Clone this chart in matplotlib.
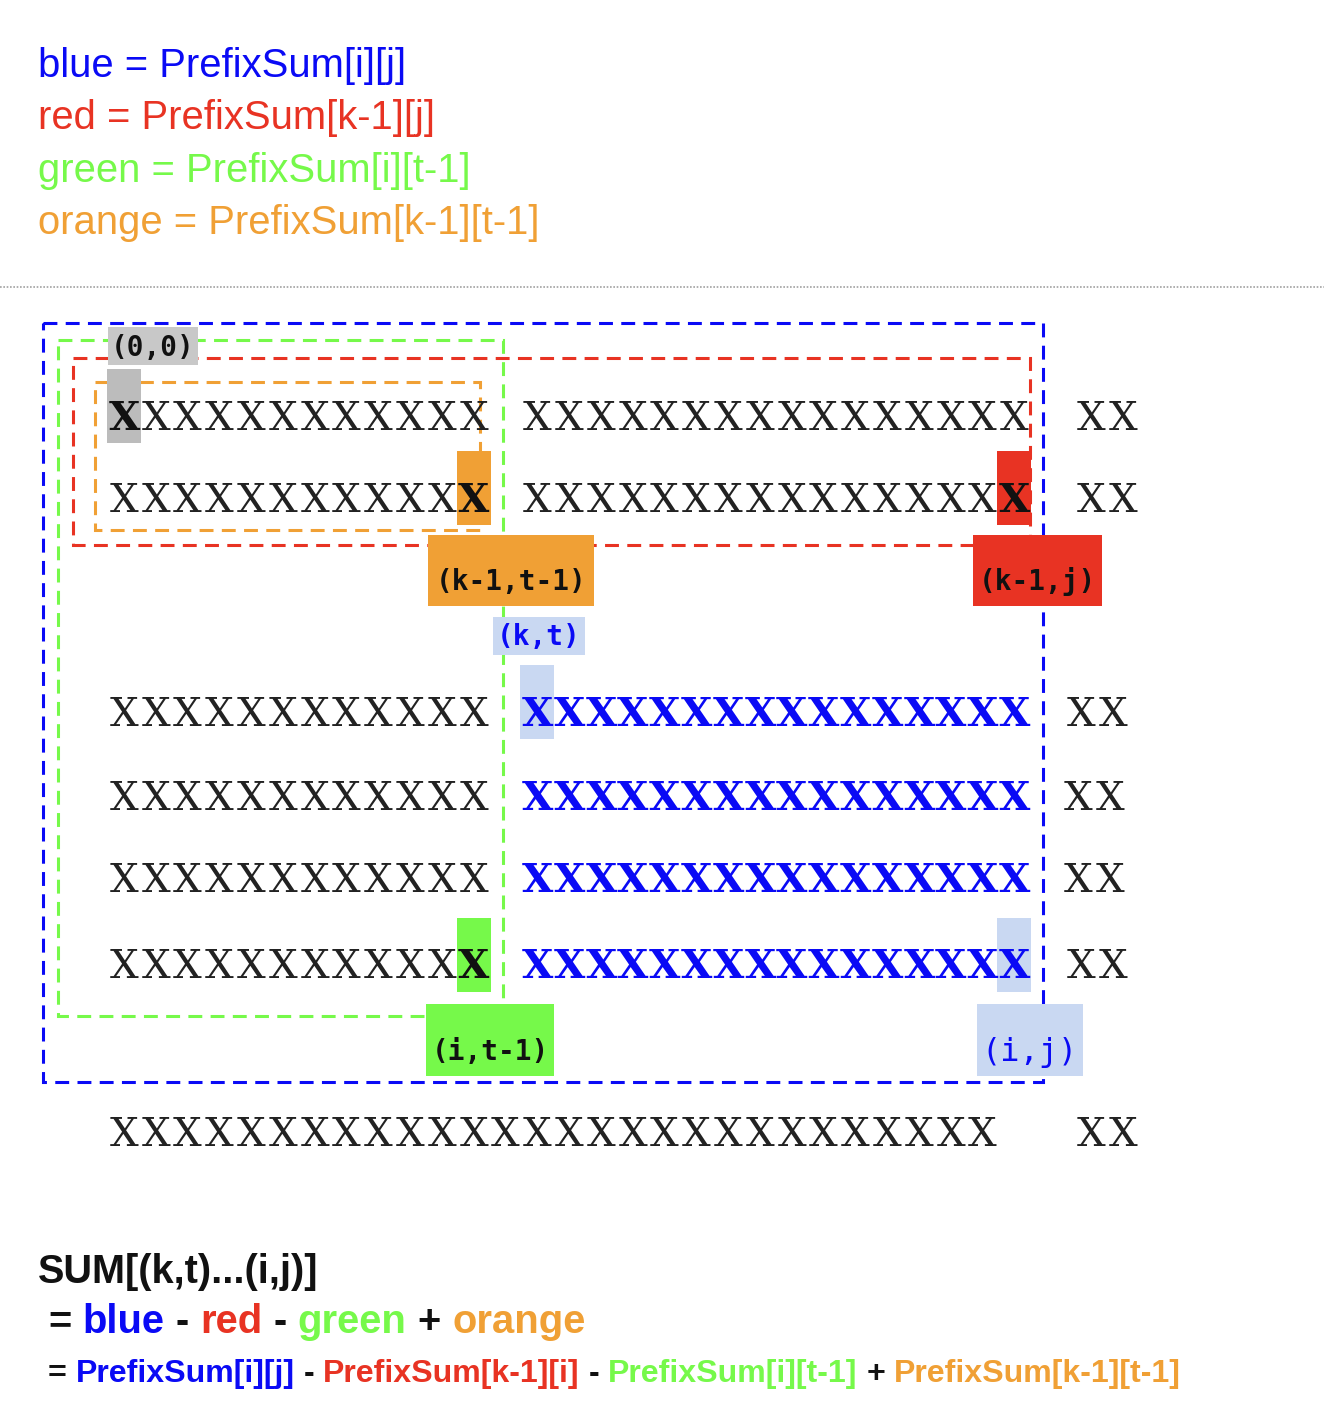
import matplotlib
matplotlib.use("Agg")
import matplotlib.pyplot as plt
from matplotlib.patches import Rectangle

# colours
BLUE = '#0a0af5'
RED = '#e83323'
GREEN = '#76f94a'
ORANGE = '#f0a035'
LIGHT_BLUE = '#c9d8f2'
GRAY = '#c8c8c8'
DARK_GRAY = '#bcbcbc'
BLACK = '#111111'

# header: which colour stands for which prefix sum
legend_names = ['blue', 'red', 'green', 'orange']
legend_terms = ['PrefixSum[i][j]', 'PrefixSum[k-1][j]', 'PrefixSum[i][t-1]', 'PrefixSum[k-1][t-1]']
legend_colors = [BLUE, RED, GREEN, ORANGE]

# the matrix of X's
grid_rows = [
    "XXXXXXXXXXXX XXXXXXXXXXXXXXXX XX",
    "XXXXXXXXXXXX XXXXXXXXXXXXXXXX XX",
    "XXXXXXXXXXXX XXXXXXXXXXXXXXXX XX",
    "XXXXXXXXXXXX XXXXXXXXXXXXXXXX XX",
    "XXXXXXXXXXXX XXXXXXXXXXXXXXXX XX",
    "XXXXXXXXXXXX XXXXXXXXXXXXXXXX XX",
    "XXXXXXXXXXXXXXXXXXXXXXXXXXXX  XX",
]
# sub matrix (k,t)...(i,j) in row/col indices
blue_rows = [2, 3, 4, 5]
blue_cols = list(range(13, 29))

# highlighted cells: (row, col, fill, text colour)
marked_cells = [
    (0, 0, DARK_GRAY, BLACK),
    (1, 11, ORANGE, BLACK),
    (1, 28, RED, BLACK),
    (2, 13, LIGHT_BLUE, BLUE),
    (5, 11, GREEN, BLACK),
    (5, 28, LIGHT_BLUE, BLUE),
]

# corner labels
corner_texts = ['(0,0)', '(k-1,t-1)', '(k-1,j)', '(k,t)', '(i,t-1)', '(i,j)']
corner_fills = [GRAY, ORANGE, RED, LIGHT_BLUE, GREEN, LIGHT_BLUE]
corner_colors = [BLACK, BLACK, BLACK, BLUE, BLACK, BLUE]
corner_weights = ['bold', 'bold', 'bold', 'bold', 'bold', 'normal']
corner_sizes = [20, 20, 20, 20, 20, 23]

# formula at the bottom
sum_title = 'SUM[(k,t)...(i,j)]'
formula_terms = ['PrefixSum[i][j]', 'PrefixSum[k-1][i]', 'PrefixSum[i][t-1]', 'PrefixSum[k-1][t-1]']
formula_ops = ['-', '-', '+']

# ---------------------------------------------------------------
W, H = 1324, 1410
plt.rcParams['lines.scale_dashes'] = False

fig = plt.figure(figsize=(W / 100, H / 100), dpi=100)
ax = fig.add_axes([0, 0, 1, 1])
ax.set_xlim(0, W)
ax.set_ylim(H, 0)
ax.axis('off')
renderer = fig.canvas.get_renderer()

SANS = 'Liberation Sans'
SERIF = 'DejaVu Serif'
LABEL_MONO = 'DejaVu Sans Mono'


def text_width(s, size, **kw):
    t = ax.text(0, 0, s, fontsize=size, **kw)
    w = t.get_window_extent(renderer).width
    t.remove()
    return w


def fit_size(s, target, **kw):
    return 30 * target / text_width(s, 30, **kw)


def draw_parts(x, y, parts, target, **kw):
    full = ' '.join(p for p, c in parts)
    size = fit_size(full, target, **kw)
    gap = text_width('a a', size, **kw) - text_width('aa', size, **kw)
    for s, c in parts:
        t = ax.text(x, y, s, color=c, fontsize=size, ha='left', va='baseline', **kw)
        x += t.get_window_extent(renderer).width + gap


# header lines
head_lines = [n + ' = ' + t for n, t in zip(legend_names, legend_terms)]
head_size = fit_size(head_lines[3], 501, family=SANS)
head_base = [77, 129, 182, 234]
for line, col, yb in zip(head_lines, legend_colors, head_base):
    ax.text(38, yb, line, color=col, fontsize=head_size, family=SANS,
            ha='left', va='baseline')

# dotted separator
ax.plot([0, W], [287, 287], color='#a8a8a8', lw=1.3, ls=(0, (1.2, 1.2)))

# dashed rectangles (x0, y0, x1, y1)
dash = (0, (10, 6))
rects = [
    ((43, 323, 1043, 1082), BLUE),
    ((58, 340, 503, 1016), GREEN),
    ((73, 358, 1030, 545), RED),
    ((95, 382, 480, 530), ORANGE),
]
for (x0, y0, x1, y1), col in rects:
    ax.add_patch(Rectangle((x0, y0), x1 - x0, y1 - y0, fill=False,
                           edgecolor=col, lw=2.2, ls=dash, zorder=2))

# grid layout
row_y = [415, 497, 711, 796, 878, 964, 1131]
col_x0 = 124
col_step = 31.8
tail_shift = [13, 13, 3, 0, 0, 3, 13]
GRID_SIZE = 29


def cell_x(r, c):
    x = col_x0 + c * col_step
    if c >= 29:
        x += tail_shift[r]
    return x


marks = {(r, c): (f, tc) for r, c, f, tc in marked_cells}
for r, row in enumerate(grid_rows):
    for c, ch in enumerate(row):
        if ch == ' ':
            continue
        x = cell_x(r, c)
        y = row_y[r]
        color, weight = '#222222', 'normal'
        if r in blue_rows and c in blue_cols:
            color, weight = BLUE, 'bold'
        if (r, c) in marks:
            fill, color = marks[(r, c)]
            weight = 'bold'
            ax.add_patch(Rectangle((x - 17, y - 46), 34, 74, facecolor=fill,
                                   edgecolor='none', zorder=3))
        ax.text(x, y + 14.5, ch, color=color, fontsize=GRID_SIZE, family=SERIF,
                fontweight=weight, ha='center', va='baseline', zorder=4)

# corner label boxes (x0, y0, x1, y1) and text centre y
label_boxes = [
    (108, 327, 198, 365, 348),
    (428, 535, 594, 606, 582),
    (973, 535, 1102, 606, 582),
    (493, 617, 585, 655, 637),
    (426, 1004, 554, 1076, 1052),
    (977, 1004, 1083, 1076, 1052),
]
for (x0, y0, x1, y1, yt), s, f, tc, wt, fs in zip(label_boxes, corner_texts, corner_fills,
                                                  corner_colors, corner_weights, corner_sizes):
    ax.add_patch(Rectangle((x0, y0), x1 - x0, y1 - y0, facecolor=f,
                           edgecolor='none', zorder=5))
    ax.text((x0 + x1) / 2, yt, s, color=tc, fontsize=fs, family=LABEL_MONO,
            fontweight=wt, ha='center', va='center', zorder=6)

# formula
title_size = fit_size(sum_title, 280, family=SANS, fontweight='bold')
ax.text(38, 1283, sum_title, color=BLACK, fontsize=title_size, family=SANS,
        fontweight='bold', ha='left', va='baseline')

ops = ['='] + formula_ops
parts2, parts3 = [], []
for op, name, term, col in zip(ops, legend_names, formula_terms, legend_colors):
    parts2 += [(op, BLACK), (name, col)]
    parts3 += [(op, BLACK), (term, col)]
draw_parts(48, 1333, parts2, 539, family=SANS, fontweight='bold')
draw_parts(48, 1382, parts3, 1135, family=SANS, fontweight='bold')

fig.savefig('out.png', dpi=100)
